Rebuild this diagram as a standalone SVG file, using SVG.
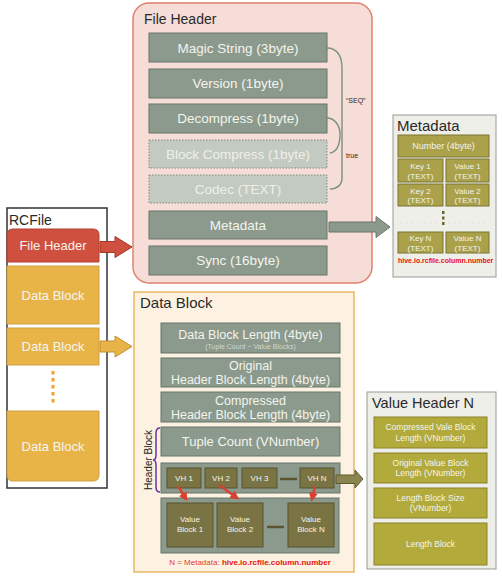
<svg xmlns="http://www.w3.org/2000/svg" width="502" height="578" viewBox="0 0 502 578">
<defs>
<style>
text{font-family:"Liberation Sans",Arial,sans-serif;}
.row{fill:#8b9a8c;stroke:#66756a;stroke-width:1;}
.rowd{fill:#c2cac2;stroke:#7f8a80;stroke-width:1;stroke-dasharray:1.5 1.5;}
.wt{fill:#f4f4ee;text-anchor:middle;}
.dt{fill:#eef0ea;text-anchor:middle;}
.ttl{fill:#2a2a2a;}
.ol{fill:#aaa14a;stroke:#7b7430;stroke-width:1;}
.dk{fill:#7a7444;stroke:#56522c;stroke-width:1;}
.vh{fill:#b3aa3c;stroke:#8a822a;stroke-width:1;}
.db{fill:#e8b448;stroke:#d0a040;stroke-width:1;}
.curve{fill:none;stroke:#7a9080;stroke-width:1.4;}
.red{stroke:#d84030;stroke-width:2.5;fill:none;}
</style>
<marker id="rh" viewBox="0 0 10 10" refX="7" refY="5" markerWidth="3.6" markerHeight="3.6" orient="auto">
<path d="M0,0 L10,5 L0,10 z" fill="#d84030"/>
</marker>
</defs>
<rect width="502" height="578" fill="#ffffff"/>

<!-- RCFile -->
<g id="rcfile">
<rect x="7" y="208" width="100" height="280" fill="#ffffff" stroke="#333" stroke-width="1.5"/>
<text x="9" y="225" font-size="14" class="ttl">RCFile</text>
<path d="M7,262 L7,235 Q7,229 13,229 L93,229 Q99,229 99,235 L99,262 Z" fill="#d05040" stroke="#b04030"/>
<text x="53" y="250" font-size="13" class="wt">File Header</text>
<rect x="7" y="266" width="92" height="58" class="db"/>
<text x="53" y="300" font-size="13" class="wt">Data Block</text>
<rect x="7" y="328" width="92" height="37" class="db"/>
<text x="53" y="351" font-size="13" class="wt">Data Block</text>
<g fill="#f0a030">
<rect x="51.5" y="371" width="3" height="3.5"/>
<rect x="51.5" y="378" width="3" height="3.5"/>
<rect x="51.5" y="385" width="3" height="3.5"/>
<rect x="51.5" y="392" width="3" height="3.5"/>
<rect x="51.5" y="399" width="3" height="3.5"/>
</g>
<path d="M7,411 L99,411 L99,475 Q99,481 93,481 L13,481 Q7,481 7,475 Z" class="db"/>
<text x="53" y="451" font-size="13" class="wt">Data Block</text>
</g>

<!-- File Header -->
<g id="fileheader">
<rect x="133" y="3" width="239" height="280" rx="16" fill="#f6ddd8" stroke="#e0806e" stroke-width="1.5"/>
<text x="144" y="24" font-size="14" class="ttl">File Header</text>
<rect x="149" y="33" width="178" height="29" class="row"/>
<text x="238" y="53" font-size="13.5" class="wt">Magic String (3byte)</text>
<rect x="149" y="69" width="178" height="29" class="row"/>
<text x="238" y="88" font-size="13.5" class="wt">Version (1byte)</text>
<rect x="149" y="104" width="178" height="29" class="row"/>
<text x="238" y="123" font-size="13.5" class="wt">Decompress (1byte)</text>
<rect x="149" y="140" width="178" height="28" class="rowd"/>
<text x="238" y="159" font-size="13.5" class="dt">Block Compress (1byte)</text>
<rect x="149" y="175" width="178" height="28" class="rowd"/>
<text x="238" y="194" font-size="13.5" class="dt">Codec (TEXT)</text>
<rect x="149" y="211" width="178" height="28" class="row"/>
<text x="238" y="230" font-size="13.5" class="wt">Metadata</text>
<rect x="149" y="246" width="178" height="29" class="row"/>
<text x="238" y="265" font-size="13.5" class="wt">Sync (16byte)</text>
<text x="346" y="103" font-size="7" class="ttl">“SEQ”</text>
<text x="346" y="158" font-size="7" class="ttl">true</text>
</g>

<!-- Metadata -->
<g id="metadata">
<rect x="393" y="115" width="103" height="162" fill="#efefea" stroke="#9a9a94"/>
<text x="397" y="131" font-size="15" class="ttl">Metadata</text>
<rect x="398" y="135" width="91" height="22" class="ol"/>
<text x="443.5" y="149" font-size="9" class="wt">Number (4byte)</text>
<rect x="398" y="159" width="45" height="23" class="ol"/>
<text x="420.5" y="169" font-size="8" class="wt">Key 1</text>
<text x="420.5" y="178.5" font-size="8" class="wt">(TEXT)</text>
<rect x="446" y="159" width="43" height="23" class="ol"/>
<text x="467.5" y="169" font-size="8" class="wt">Value 1</text>
<text x="467.5" y="178.5" font-size="8" class="wt">(TEXT)</text>
<rect x="398" y="184" width="45" height="22" class="ol"/>
<text x="420.5" y="193.5" font-size="8" class="wt">Key 2</text>
<text x="420.5" y="203" font-size="8" class="wt">(TEXT)</text>
<rect x="446" y="184" width="43" height="22" class="ol"/>
<text x="467.5" y="193.5" font-size="8" class="wt">Value 2</text>
<text x="467.5" y="203" font-size="8" class="wt">(TEXT)</text>
<line x1="400" y1="223" x2="488" y2="223" stroke="#d0d0c8" stroke-width="0.8" stroke-dasharray="1 5"/>
<g fill="#6b6630">
<rect x="442" y="211" width="2.5" height="3"/>
<rect x="442" y="216.5" width="2.5" height="3"/>
<rect x="442" y="222" width="2.5" height="3"/>
</g>
<rect x="398" y="232" width="45" height="21" class="ol"/>
<text x="420.5" y="241" font-size="8" class="wt">Key N</text>
<text x="420.5" y="250.5" font-size="8" class="wt">(TEXT)</text>
<rect x="446" y="232" width="43" height="21" class="ol"/>
<text x="467.5" y="241" font-size="8" class="wt">Value N</text>
<text x="467.5" y="250.5" font-size="8" class="wt">(TEXT)</text>
<text x="398" y="263" font-size="7" font-weight="bold" fill="#e81010">hive.io.rcfile.column.number</text>
</g>

<!-- Data Block detail -->
<g id="datablock">
<rect x="134" y="292" width="220" height="280" fill="#fdf2e2" stroke="#e8b860" stroke-width="1.5"/>
<text x="140" y="308" font-size="15" class="ttl">Data Block</text>
<rect x="161" y="323" width="179" height="30" class="row"/>
<text x="250.5" y="339" font-size="12.5" class="wt">Data Block Length (4byte)</text>
<text x="250.5" y="349" font-size="7" fill="#d0d8d0" text-anchor="middle">(Tuple Count ~ Value Blocks)</text>
<rect x="161" y="358" width="179" height="29" class="row"/>
<text x="250.5" y="370" font-size="12.5" class="wt">Original</text>
<text x="250.5" y="384" font-size="12.5" class="wt">Header Block Length (4byte)</text>
<rect x="161" y="392" width="179" height="30" class="row"/>
<text x="250.5" y="405" font-size="12.5" class="wt">Compressed</text>
<text x="250.5" y="419" font-size="12.5" class="wt">Header Block Length (4byte)</text>
<rect x="161" y="427" width="179" height="29" class="row"/>
<text x="250.5" y="446" font-size="13" class="wt">Tuple Count (VNumber)</text>
<rect x="161" y="463" width="179" height="30" class="row"/>
<rect x="167" y="468" width="34" height="20" class="dk"/>
<text x="184" y="481" font-size="8" class="wt">VH 1</text>
<rect x="205" y="468" width="32" height="20" class="dk"/>
<text x="221" y="481" font-size="8" class="wt">VH 2</text>
<rect x="242" y="468" width="35" height="20" class="dk"/>
<text x="259.5" y="481" font-size="8" class="wt">VH 3</text>
<line x1="280" y1="479" x2="297" y2="479" stroke="#5a5530" stroke-width="2.5"/>
<rect x="300" y="468" width="34" height="20" class="dk"/>
<text x="317" y="481" font-size="8" class="wt">VH N</text>
<rect x="161" y="498" width="178" height="55" class="row"/>
<rect x="167" y="503" width="46" height="44" class="dk"/>
<text x="190" y="522" font-size="8" class="wt">Value</text>
<text x="190" y="532" font-size="8" class="wt">Block 1</text>
<rect x="217" y="503" width="46" height="44" class="dk"/>
<text x="240" y="522" font-size="8" class="wt">Value</text>
<text x="240" y="532" font-size="8" class="wt">Block 2</text>
<line x1="267" y1="527" x2="284" y2="527" stroke="#5a5530" stroke-width="2.5"/>
<rect x="288" y="503" width="46" height="44" class="dk"/>
<text x="311" y="522" font-size="8" class="wt">Value</text>
<text x="311" y="532" font-size="8" class="wt">Block N</text>
<path d="M160,428 Q156,428 156,433 L156,455 Q156,460 153,460 Q156,460 156,465 L156,487 Q156,492 160,492" fill="none" stroke="#7030a0" stroke-width="1.5"/>
<text x="152" y="460" font-size="10" fill="#222" text-anchor="middle" transform="rotate(-90 152 460)">Header Block</text>
<text x="250" y="565" font-size="8" fill="#e04030" text-anchor="middle">N = Metadata: <tspan font-weight="bold" fill="#e81010">hive.io.rcfile.column.number</tspan></text>
</g>

<!-- Value Header N -->
<g id="valueheader">
<rect x="367" y="392" width="129" height="177" fill="#efefea" stroke="#9a9a94"/>
<text x="372" y="408" font-size="14.5" class="ttl">Value Header N</text>
<rect x="374" y="417" width="113" height="31" class="vh"/>
<text x="430.5" y="430" font-size="8.5" class="wt">Compressed Vale Block</text>
<text x="430.5" y="440.5" font-size="8.5" class="wt">Length (VNumber)</text>
<rect x="374" y="453" width="113" height="30" class="vh"/>
<text x="430.5" y="465.5" font-size="8.5" class="wt">Original Value Block</text>
<text x="430.5" y="476" font-size="8.5" class="wt">Length (VNumber)</text>
<rect x="374" y="488" width="113" height="30" class="vh"/>
<text x="430.5" y="500.5" font-size="8.5" class="wt">Length Block Size</text>
<text x="430.5" y="511" font-size="8.5" class="wt">(VNumber)</text>
<rect x="374" y="523" width="113" height="42" class="vh"/>
<text x="430.5" y="547" font-size="8.5" class="wt">Length Block</text>
</g>

<!-- Connectors -->
<g id="connectors">
<path d="M327,48 C337,48 342,56 342,68 L342,178 C342,185 337,189 330,189" class="curve"/>
<path d="M327,118 C335,118 340,126 340,134 C340,146 336,152 330,153" class="curve"/>
<polygon points="329,222 376,222 376,216.5 390,227 376,237.5 376,232 329,232" fill="#8b9a8c" stroke="#66756a"/>
<polygon points="100,241.5 115,241.5 115,236.5 132,247 115,257.5 115,252.5 100,252.5" fill="#d05040" stroke="#a03828"/>
<polygon points="100,341 115,341 115,336 132,346.5 115,357 115,352 100,352" fill="#e8b448" stroke="#c09030"/>
<polygon points="336,475 355,475 355,470 363,479 355,488 355,483.5 336,483.5" fill="#8a8450" stroke="#605a30"/>
<line x1="178" y1="486" x2="186" y2="499" class="red" marker-end="url(#rh)"/>
<line x1="219" y1="485" x2="237" y2="498" class="red" marker-end="url(#rh)"/>
<line x1="315" y1="486" x2="312" y2="499" class="red" marker-end="url(#rh)"/>
</g>
</svg>
